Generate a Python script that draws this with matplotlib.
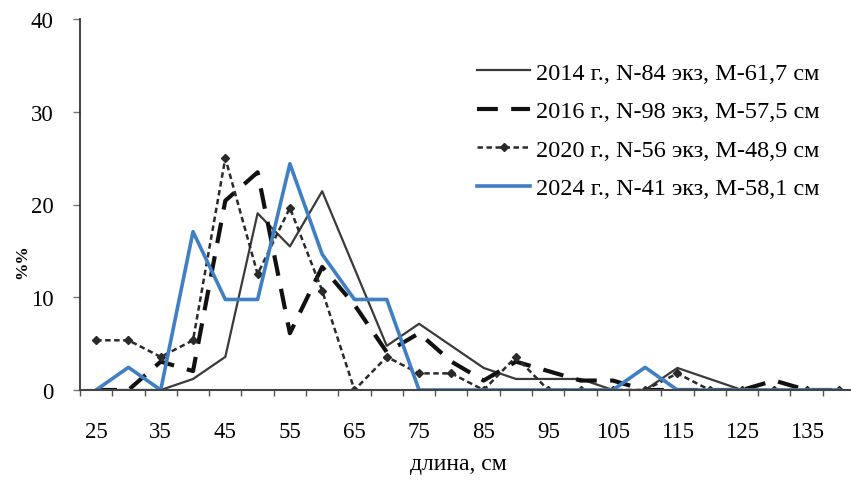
import matplotlib
matplotlib.use("Agg")
import matplotlib.pyplot as plt
import numpy as np

plt.rcParams["font.family"] = ["Liberation Serif", "DejaVu Serif"]

# --- data ---------------------------------------------------------------------
lengths = [25, 30, 35, 40, 45, 50, 55, 60, 65, 70, 75, 80,
           85, 90, 95, 100, 105, 110, 115, 120, 125, 130, 135, 140]

pct_2014 = [0, 0, 0, 1.19, 3.57, 19.05, 15.48, 21.43, 13.10, 4.76, 7.14, 4.76,
            2.38, 1.19, 1.19, 1.19, 0, 0, 2.38, 1.19, 0, 0, 0, 0]
pct_2016 = [0, 0, 3.06, 2.04, 20.41, 23.47, 6.12, 13.27, 9.18, 4.08, 6.12, 3.06,
            1.02, 3.06, 2.04, 1.02, 1.02, 0, 0, 0, 0, 1.02, 0, 0]
pct_2020 = [5.36, 5.36, 3.57, 5.36, 25.0, 12.5, 19.64, 10.71, 0, 3.57, 1.79, 1.79,
            0, 3.57, 0, 0, 0, 0, 1.79, 0, 0, 0, 0, 0]
pct_2024 = [0, 2.44, 0, 17.07, 9.76, 9.76, 24.39, 14.63, 9.76, 9.76, 0, 0,
            0, 0, 0, 0, 0, 2.44, 0, 0, 0, 0, 0, 0]

labels = ["2014 г., N-84 экз, М-61,7 см",
          "2016 г., N-98 экз, М-57,5 см",
          "2020 г., N-56 экз, М-48,9 см",
          "2024 г., N-41 экз, М-58,1 см"]

yticks = [0, 10, 20, 30, 40]

# --- figure -------------------------------------------------------------------
fig = plt.figure(figsize=(8.51, 4.81), dpi=100)
ax = fig.add_axes([80 / 851, 90 / 481, 775 / 851, 371 / 481])

x = np.arange(len(lengths))

ax.plot(x, pct_2014, "-", color="#3a3a3a", linewidth=1.6, label=labels[0])
ax.plot(x, pct_2016, color="#111111", linewidth=3.0, dashes=(5, 3.2),
        label=labels[1])
ax.plot(x, pct_2020, color="#2a2a2a", linewidth=1.8, dashes=(2.2, 1.4),
        marker="D", markersize=4, label=labels[2])
ax.plot(x, pct_2024, "-", color="#3f7fc4", linewidth=2.6, label=labels[3])

ax.set_xlim(-0.5, len(lengths) - 0.5)
ax.set_ylim(0, 40)

ax.set_xticks(x[::2])
ax.set_xticklabels([str(v) for v in lengths[::2]], fontsize=16.5)
ax.set_xticks(np.arange(-0.5, len(lengths), 1.0), minor=True)
ax.tick_params(axis="x", which="major", length=0, pad=22)
ax.tick_params(axis="x", which="minor", length=4, width=1, color="#555555")

ax.set_yticks(yticks)
ax.set_yticklabels([str(v) for v in yticks], fontsize=16.5)
ax.tick_params(axis="y", length=5, width=1, color="#777777", pad=14)

for side in ("top", "right"):
    ax.spines[side].set_visible(False)
ax.spines["left"].set_color("#222222")
ax.spines["bottom"].set_color("#444444")
ax.spines["left"].set_linewidth(1.2)
ax.spines["bottom"].set_linewidth(1.5)

fig.text(458 / 851, 1 - 465 / 481, "длина, см", fontsize=17,
         ha="center", va="center")
ax.text(-0.074, 0.35, "%%", transform=ax.transAxes, rotation=90,
        fontsize=12.5, fontweight="bold", ha="center", va="center")

ax.legend(loc="upper left", bbox_to_anchor=(0.512, 0.885), frameon=False,
          fontsize=17.5, handlelength=2.2, handletextpad=0.25,
          labelspacing=0.68, borderaxespad=0, borderpad=0)

fig.savefig("out.png", dpi=100, facecolor="white")
